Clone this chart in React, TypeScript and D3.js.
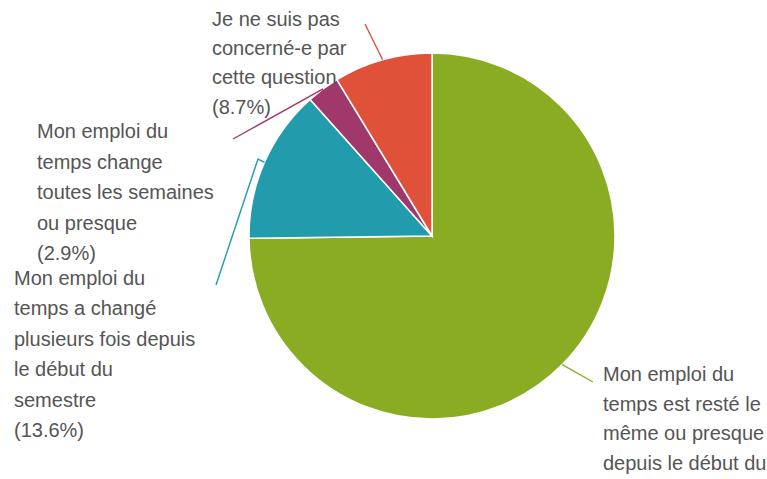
import React from "react";
import * as d3 from "d3";

const categories = [
  "Mon emploi du temps est resté le même ou presque depuis le début du semestre",
  "Mon emploi du temps a changé plusieurs fois depuis le début du semestre",
  "Mon emploi du temps change toutes les semaines ou presque",
  "Je ne suis pas concerné-e par cette question",
];
const values = [74.8, 13.6, 2.9, 8.7];
const percentLabels = ["(74.8%)", "(13.6%)", "(2.9%)", "(8.7%)"];
const wrappedLines = [
  ["Mon emploi du", "temps est resté le", "même ou presque", "depuis le début du", "semestre"],
  ["Mon emploi du", "temps a changé", "plusieurs fois depuis", "le début du", "semestre"],
  ["Mon emploi du", "temps change", "toutes les semaines", "ou presque"],
  ["Je ne suis pas", "concerné-e par", "cette question"],
];
const colors = ["#8aac23", "#229cac", "#a0386b", "#e0513a"];

const W = 767;
const H = 479;
const cx = 432;
const cy = 236;
const R = 183;

// label layout (x, first baseline, line height) and leader line bend/end points
const labelLayout = [
  { x: 603, y: 381, lh: 29.7, pts: [[593, 382]] },
  { x: 14, y: 285, lh: 30.4, pts: [[258, 159], [216, 285]] },
  { x: 37, y: 138, lh: 30.5, pts: [[233, 139]] },
  { x: 212, y: 26, lh: 29.2, pts: [[365, 24]] },
];

export default function App() {
  const pie = d3.pie<number>().sort(null).value((d) => d);
  const arcs = pie(values);
  const arc = d3.arc<d3.PieArcDatum<number>>().innerRadius(0).outerRadius(R);
  const edge = d3.arc<d3.PieArcDatum<number>>().innerRadius(R).outerRadius(R);

  return (
    <svg width={W} height={H} style={{ position: "absolute", left: 0, top: 0, background: "#fff" }}>
      <g transform={`translate(${cx},${cy})`}>
        {arcs.map((a, i) => (
          <path key={i} d={arc(a) || ""} fill={colors[i]} stroke="#fff" strokeWidth={1.5} />
        ))}
      </g>
      {arcs.map((a, i) => {
        const [ex, ey] = edge.centroid(a);
        const pts = [[ex + cx, ey + cy], ...labelLayout[i].pts];
        const line = d3.line()(pts as [number, number][]);
        return <path key={"l" + i} d={line || ""} fill="none" stroke={colors[i]} strokeWidth={1.4} />;
      })}
      {wrappedLines.map((lines, i) => {
        const L = labelLayout[i];
        const all = [...lines, percentLabels[i]]
          .map((s, j) => ({ s, y: L.y + j * L.lh }))
          .filter((d) => d.y < H);
        return (
          <text
            key={"t" + i}
            fontFamily="'Liberation Sans', Arial, sans-serif"
            fontSize={20}
            fill="#555"
          >
            <title>{categories[i]}</title>
            {all.map((d, j) => (
              <tspan key={j} x={L.x} y={d.y}>
                {d.s}
              </tspan>
            ))}
          </text>
        );
      })}
    </svg>
  );
}
